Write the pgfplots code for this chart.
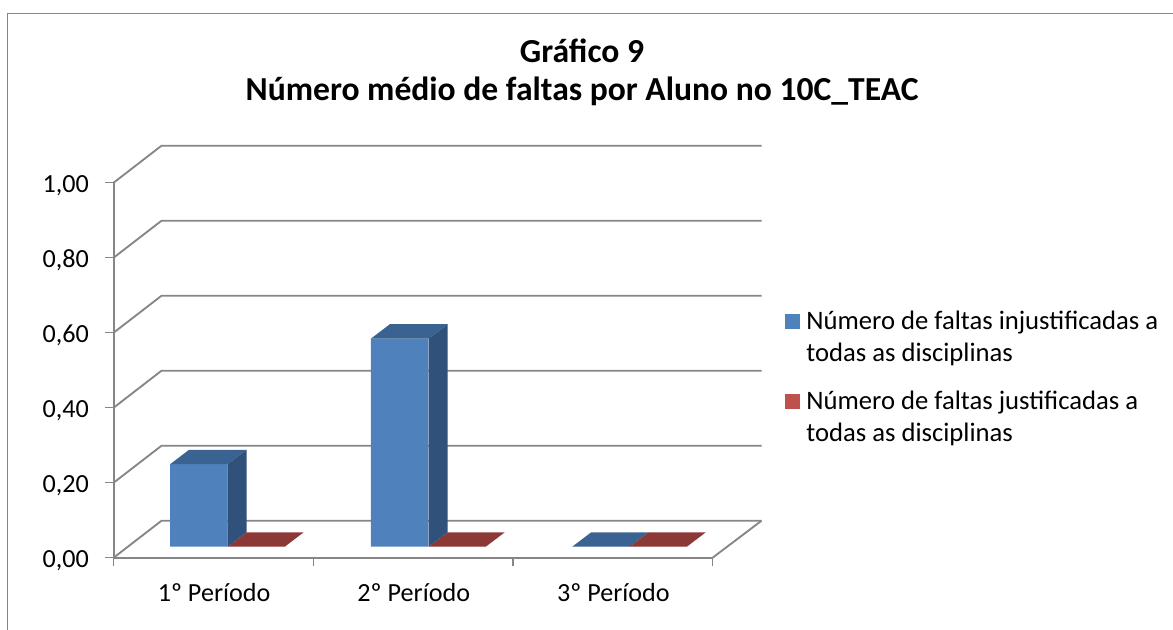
\documentclass[border=0pt]{standalone}
\usepackage{fontspec}
\setmainfont{Carlito}
\usepackage{pgfplots}
\pgfplotsset{compat=1.18}
\definecolor{gridc}{HTML}{868686}
\definecolor{blueF}{HTML}{4F81BD}
\definecolor{blueT}{HTML}{3A6391}
\definecolor{blueS}{HTML}{30527A}
\definecolor{redF}{HTML}{C0504D}
\definecolor{redT}{HTML}{8C3836}
\pgfplotsset{
  wall/.style={forget plot, gridc, line width=1.4pt, no markers},
  poly/.style={forget plot, draw=none, no markers, yshift=8.25pt},
  front/.style={forget plot, ybar, bar width=43.1pt, bar shift=0pt, draw=none, yshift=8.25pt},
  swatch/.style={legend image code/.code={\fill[##1] (0pt,-5.6pt) rectangle (11.25pt,5.6pt);}},
}
\begin{document}
\begin{tikzpicture}
\path[use as bounding box] (0,0) rectangle (879.75pt,472.5pt);
\draw[gridc, line width=1pt] (5.5pt,0) -- (5.5pt,462.4pt) -- (879.75pt,462.4pt);
\begin{axis}[
  at={(85.2pt,54.2pt)}, anchor=south west,
  x=149.75pt, y=281.25pt,
  xmin=0, xmax=3, ymin=0, ymax=1,
  clip=false,
  axis lines=left,
  axis line style={-, gridc, line width=1.4pt},
  xtick={0,1,2,3},
  xticklabels={1º Período,2º Período,3º Período},
  x tick label as interval,
  ytick={0,0.2,0.4,0.6,0.8,1},
  tick align=outside,
  major tick length=6.5pt,
  tick style={gridc, line width=.9pt},
  tick label style={font=\fontsize{19.6}{23}\selectfont},
  /pgf/number format/fixed,
  /pgf/number format/fixed zerofill,
  /pgf/number format/precision=2,
  /pgf/number format/use comma,
  /pgf/number format/assume math mode=true,
  xticklabel style={yshift=-9pt, xshift=0.5pt},
  yticklabel style={xshift=-8.5pt, yshift=-2pt},
  title={Gráfico 9\\Número médio de faltas por Aluno no 10C\_TEAC},
  title style={at={(0.782,1.172)}, anchor=south, align=center, font=\fontsize{25.2}{28.5}\selectfont\bfseries},
  legend style={draw=none, fill=none, legend cell align=left,
    at={(1.121,0.659)}, anchor=north west, row sep=44.75pt, inner sep=0pt,
    nodes={font=\fontsize{20}{24}\selectfont, inner sep=0pt}},
]
% side walls and back gridlines
\addplot[wall] coordinates {(0,0) (0.24,0.0987) (3.245,0.0987)};
\addplot[wall] coordinates {(0,0.2) (0.24,0.2987) (3.245,0.2987)};
\addplot[wall] coordinates {(0,0.4) (0.24,0.4987) (3.245,0.4987)};
\addplot[wall] coordinates {(0,0.6) (0.24,0.6987) (3.245,0.6987)};
\addplot[wall] coordinates {(0,0.8) (0.24,0.8987) (3.245,0.8987)};
\addplot[wall] coordinates {(0,1) (0.24,1.0987) (3.245,1.0987)};
\addplot[wall] coordinates {(3,0) (3.245,0.0987)};
% series 2: justificadas (all zero)
\addplot[front, fill=redF] coordinates {(0.7155,0) (1.7205,0) (2.7275,0)};
\addplot[poly, fill=redT] coordinates {(0.571,0) (0.857,0) (0.952,0.0385) (0.666,0.0385)} -- cycle;
\addplot[poly, fill=redT] coordinates {(1.578,0) (1.864,0) (1.959,0.0385) (1.673,0.0385)} -- cycle;
% series 1: injustificadas
\addplot[poly, fill=blueT] coordinates {(2.297,0) (2.584,0) (2.679,0.0385) (2.392,0.0385)} -- cycle;
\addplot[poly, fill=redT] coordinates {(2.584,0) (2.871,0) (2.966,0.0385) (2.679,0.0385)} -- cycle;
\addplot[front, fill=blueF] coordinates {(0.427,0.22) (1.433,0.555) (2.44,0)};
\addplot[poly, fill=blueT] coordinates {(0.283,0.22) (0.571,0.22) (0.666,0.2585) (0.378,0.2585)} -- cycle;
\addplot[poly, fill=blueS] coordinates {(0.571,0) (0.666,0.0385) (0.666,0.2585) (0.571,0.22)} -- cycle;
\addplot[poly, fill=blueT] coordinates {(1.289,0.555) (1.578,0.555) (1.673,0.5935) (1.384,0.5935)} -- cycle;
\addplot[poly, fill=blueS] coordinates {(1.578,0) (1.673,0.0385) (1.673,0.5935) (1.578,0.555)} -- cycle;
\addlegendimage{swatch, fill=blueF, draw=none}
\addlegendentry{\hspace*{4.5pt}\parbox[t]{280pt}{\raggedright\baselineskip=24pt Número de faltas injustificadas a\\ todas as disciplinas}}
\addlegendimage{swatch, fill=redF, draw=none}
\addlegendentry{\hspace*{4.5pt}\parbox[t]{280pt}{\raggedright\baselineskip=24pt Número de faltas justificadas a\\ todas as disciplinas}}
\end{axis}
\end{tikzpicture}
\end{document}
